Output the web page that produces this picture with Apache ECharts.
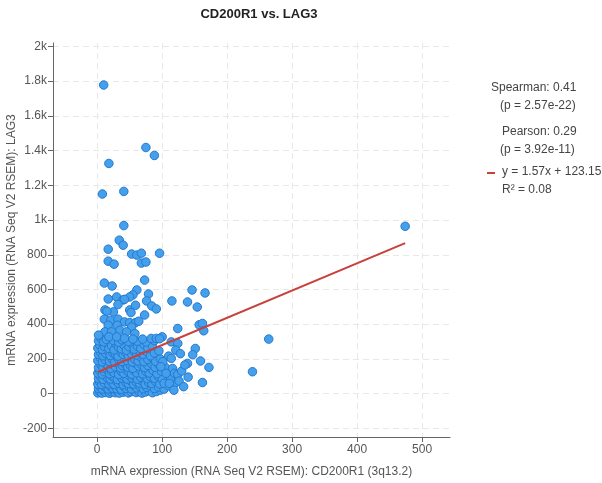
<!DOCTYPE html>
<html>
<head>
<meta charset="utf-8">
<script src="https://cdn.jsdelivr.net/npm/echarts@6/dist/echarts.min.js"></script>
<style>html,body{margin:0;padding:0;background:#fff}#c{width:602px;height:483px}</style>
</head>
<body>
<div id="c"></div>
<script>
const chartTitle = 'CD200R1 vs. LAG3';
const xAxisName = 'mRNA expression (RNA Seq V2 RSEM): CD200R1 (3q13.2)';
const yAxisName = 'mRNA expression (RNA Seq V2 RSEM): LAG3';
const xTicks = [0, 100, 200, 300, 400, 500];
const yTicks = [-200, 0, 200, 400, 600, 800, 1000, 1200, 1400, 1600, 1800, 2000];

// [CD200R1, LAG3] – sparse / readable points
const sparsePoints = [
  [10,1778],[75,1418],[88,1372],[18,1326],[8,1150],[41,1165],[41,968],[34,884],[40,855],[17,832],
  [53,804],[61,798],[68,809],[96,809],[17,763],[26,746],[68,752],[75,758],[73,654],[11,637],
  [23,620],[61,597],[55,569],[79,574],[146,597],[166,580],[17,545],[30,557],[40,540],[50,557],
  [115,534],[139,528],[154,499],[76,534],[84,505],[91,488],[12,482],[25,471],[50,482],[73,453],
  [124,375],[157,396],[162,404],[164,362],[42,543],[59,509],[32,513],[15,475],[52,467],[11,429],
  [21,423],[32,429],[42,413],[50,409],[59,409],[64,417],[17,394],[31,394],[53,384],[12,356],
  [22,356],[35,365],[45,356],[58,346],[18,327],[30,327],[42,318],[55,314],[70,314],[83,318],
  [91,318],[100,327],[2,337],[96,316],[114,298],[124,289],[151,260],[147,224],[110,216],[114,203],
  [139,174],[159,188],[172,151],[101,184],[98,155],[116,145],[119,117],[124,111],[106,117],[103,59],
  [111,59],[162,64],[264,314],[239,126],[474,964],[126,72],[133,40],[118,20],[140,95],[130,130],
  [121,250],[128,230],[135,165]
];

// [CD200R1, LAG3] – dense cluster near the origin
const densePoints = [
  [1,4],[4,12],[7,3],[10,15],[13,6],[16,18],[19,2],[22,10],[25,16],[28,5],[31,12],[34,3],[37,17],[40,8],[44,14],[48,4],[52,11],[56,18],[60,6],[64,13],[69,3],[74,9],[79,16],[85,5],[91,12],[97,20],
  [2,30],[5,38],[8,26],[11,42],[14,33],[17,27],[20,40],[24,31],[27,44],[30,28],[34,37],[37,25],[41,41],[45,30],[49,38],[53,27],[57,44],[61,33],[66,40],[71,28],[76,36],[82,43],[88,30],[94,38],[103,26],[110,45],
  [1,55],[4,68],[7,52],[11,62],[15,72],[18,56],[22,66],[26,54],[29,74],[33,60],[37,70],[40,52],[44,64],[48,58],[52,72],[56,55],[60,67],[65,60],[69,74],[74,53],[79,65],[84,58],[90,70],[96,55],[120,60],
  [2,88],[5,98],[9,82],[12,104],[16,90],[20,84],[23,100],[27,92],[31,81],[35,103],[38,89],[42,96],[46,84],[50,102],[54,90],[58,98],[62,83],[67,94],[72,104],[77,86],[82,97],[88,88],[94,100],[100,84],[113,92],
  [1,118],[4,132],[8,112],[11,126],[15,138],[19,115],[22,130],[26,121],[30,140],[33,110],[37,128],[41,117],[45,136],[49,124],[53,112],[57,132],[61,120],[66,138],[70,114],[75,128],[80,119],[86,134],[92,115],[99,128],[108,138],
  [2,150],[6,165],[9,148],[13,172],[17,157],[21,146],[24,168],[28,155],[32,175],[36,148],[39,162],[43,170],[47,152],[51,164],[55,146],[59,174],[64,158],[68,168],[73,150],[78,162],[84,172],[89,152],[95,166],[105,150],
  [1,190],[5,205],[8,183],[12,196],[16,210],[19,186],[23,200],[27,182],[31,208],[34,193],[38,185],[42,204],[46,190],[50,210],[54,182],[58,198],[63,188],[68,206],[72,184],[78,196],[84,208],[90,186],[97,200],
  [2,226],[5,240],[9,218],[13,232],[17,245],[20,220],[24,236],[28,228],[32,216],[36,242],[40,226],[44,238],[48,218],[52,232],[57,244],[61,222],[66,236],[71,226],[76,242],[82,218],[88,234],[95,246],
  [1,262],[4,280],[8,255],[11,272],[15,290],[18,260],[22,276],[26,252],[29,286],[33,266],[37,258],[41,280],[45,250],[49,270],[53,288],[57,256],[62,272],[67,260],[72,284],[78,262],[85,276],
  [2,304],[6,318],[10,298],[14,312],[25,306],[33,296],[38,310],[48,300],[62,302],[75,298],[88,306]
];

const statLines = ['Spearman: 0.41', '(p = 2.57e-22)', 'Pearson: 0.29', '(p = 3.92e-11)'];
const regSlope = 1.57;
const regIntercept = 123.15;
const regLabel = 'y = 1.57x + 123.15';
const r2Label = 'R\u00b2 = 0.08';

const allPoints = densePoints.concat(sparsePoints);
const xs = allPoints.map(p => p[0]);
const xMinData = Math.min.apply(null, xs);
const xMaxData = Math.max.apply(null, xs);
const regLine = [[xMinData, regSlope * xMinData + regIntercept], [xMaxData, regSlope * xMaxData + regIntercept]];

function yFmt(v) {
  if (Math.abs(v) >= 1000) return (v / 1000) + 'k';
  return String(v);
}

const textColor = '#555';
const font = 'Arial, "Liberation Sans", sans-serif';

const chart = echarts.init(document.getElementById('c'), null, {renderer: 'canvas'});
chart.setOption({
  animation: false,
  backgroundColor: '#fff',
  title: {
    text: chartTitle, left: 254, top: 3, textAlign: 'center',
    textStyle: {fontSize: 13, fontWeight: 'bold', color: '#222', fontFamily: font}
  },
  grid: {left: 53, right: 152, top: 43, bottom: 46, containLabel: false, outerBoundsMode: 'none'},
  xAxis: {
    type: 'value', min: -68, max: 543,
    name: xAxisName, nameLocation: 'middle', nameGap: 29, nameMoveOverlap: false,
    nameTextStyle: {color: textColor, fontSize: 12, fontFamily: font},
    axisLine: {show: true, onZero: false, lineStyle: {color: '#666', width: 1}},
    axisTick: {show: true, length: 5, customValues: xTicks, lineStyle: {color: '#666'}},
    axisLabel: {customValues: xTicks, color: textColor, fontSize: 12, fontFamily: font, margin: 7},
    splitLine: {show: true, lineStyle: {color: '#e8e8e8', type: [6, 4]}}
  },
  yAxis: {
    type: 'value', min: -250, max: 2020,
    name: yAxisName, nameLocation: 'middle', nameGap: 35, nameMoveOverlap: false,
    nameTextStyle: {color: textColor, fontSize: 12, fontFamily: font},
    axisLine: {show: true, onZero: false, lineStyle: {color: '#666', width: 1}},
    axisTick: {show: true, length: 5, customValues: yTicks, lineStyle: {color: '#666'}},
    axisLabel: {customValues: yTicks, color: textColor, fontSize: 12, fontFamily: font, margin: 6, formatter: yFmt},
    splitLine: {show: true, lineStyle: {color: '#e8e8e8', type: [6, 4]}}
  },
  series: [
    {
      type: 'scatter', data: allPoints, symbolSize: 8.5,
      itemStyle: {color: '#45a0ec', borderColor: '#2478d0', borderWidth: 1, opacity: 1}
    },
    {
      type: 'line', data: regLine, showSymbol: false, symbol: 'none', z: 5,
      lineStyle: {color: '#c8413b', width: 2}
    }
  ],
  graphic: [
    {type: 'text', left: 491, top: 82, style: {text: statLines[0], fill: '#444', font: '12px ' + font}},
    {type: 'text', left: 500, top: 100, style: {text: statLines[1], fill: '#444', font: '12px ' + font}},
    {type: 'text', left: 502, top: 126, style: {text: statLines[2], fill: '#444', font: '12px ' + font}},
    {type: 'text', left: 500, top: 144, style: {text: statLines[3], fill: '#444', font: '12px ' + font}},
    {type: 'line', shape: {x1: 487, y1: 173, x2: 495, y2: 173}, style: {stroke: '#c8413b', lineWidth: 2}},
    {type: 'text', left: 502, top: 166, style: {text: regLabel, fill: '#444', font: '12px ' + font}},
    {type: 'text', left: 502, top: 184, style: {text: r2Label, fill: '#444', font: '12px ' + font}}
  ]
});
</script>
</body>
</html>
